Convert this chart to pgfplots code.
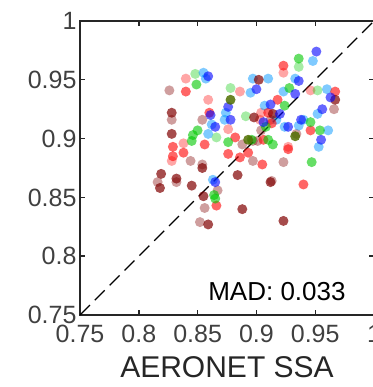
\documentclass[border=0pt]{standalone}
\usepackage{pgfplots}
\pgfplotsset{compat=1.18}
\usepackage{fontspec}
\setmainfont{Liberation Sans}
\definecolor{cR}{RGB}{255,0,0}
\definecolor{cD}{RGB}{128,0,0}
\definecolor{cG}{RGB}{0,200,0}
\definecolor{cB}{RGB}{0,0,255}
\definecolor{cL}{RGB}{0,150,255}
\definecolor{cO}{RGB}{80,110,0}
\pgfplotsset{
  dot/.style 2 args={only marks, mark=*, mark size=5pt, draw=none,
    mark options={draw=none, draw opacity=0, line width=0pt, fill=#1, fill opacity=#2}},
}
\begin{document}
\begin{tikzpicture}
\begin{axis}[
  at={(0,0)}, anchor=south west,
  width=294pt, height=294pt, scale only axis,
  xmin=0.75, xmax=1, ymin=0.75, ymax=1,
  xtick={0.75,0.8,0.85,0.9,0.95,1},
  ytick={0.75,0.8,0.85,0.9,0.95,1},
  xticklabels={0.75,0.8,0.85,0.9,0.95,1},
  yticklabels={0.75,0.8,0.85,0.9,0.95,1},
  tick align=inside, major tick length=5pt,
  tick style={black!85, line width=1.4pt},
  axis line style={black!85, line width=1.6pt},
  /pgf/number format/assume math mode=true,
  ticklabel style={font=\fontsize{25}{25}\selectfont, text=black!75},
  xticklabel style={yshift=-7pt},
  xlabel={AERONET SSA},
  xlabel style={font=\fontsize{30}{30}\selectfont, text=black!85, yshift=-6pt},
  clip=false,
]
\addplot[black, line width=1.3pt, dash pattern=on 14pt off 7pt] coordinates {(0.75,0.75) (1,1)};
% rosy (dark red, light)
\addplot[dot={cD}{0.38}] coordinates {
(0.826,0.941) (0.828,0.916) (0.854,0.916) (0.966,0.925) (0.912,0.916) (0.904,0.907)
(0.901,0.898) (0.934,0.904) (0.844,0.881) (0.897,0.881) (0.816,0.863) (0.832,0.863)
(0.854,0.878) (0.867,0.856) (0.856,0.841) (0.852,0.829) (0.923,0.880) (0.913,0.864)
(0.897,0.898) (0.888,0.895)};
% pink (red, light)
\addplot[dot={cR}{0.35}] coordinates {
(0.840,0.951) (0.859,0.933) (0.923,0.956) (0.886,0.940) (0.946,0.941) (0.904,0.922)
(0.903,0.916) (0.876,0.908) (0.838,0.896) (0.828,0.881) (0.927,0.893)};
% light green
\addplot[dot={cG}{0.35}] coordinates {
(0.848,0.955) (0.936,0.961) (0.878,0.943) (0.952,0.941) (0.891,0.919) (0.866,0.901)};
% light blue
\addplot[dot={cL}{0.5}] coordinates {
(0.855,0.956) (0.857,0.951) (0.948,0.966) (0.910,0.951) (0.897,0.951) (0.933,0.951)
(0.960,0.942) (0.895,0.939) (0.923,0.940) (0.907,0.928) (0.874,0.922) (0.873,0.916)
(0.917,0.916) (0.924,0.910) (0.862,0.912) (0.859,0.904) (0.952,0.921) (0.936,0.911)
(0.961,0.907) (0.953,0.893) (0.940,0.916) (0.863,0.865)};
% red
\addplot[dot={cR}{0.6}] coordinates {
(0.840,0.940) (0.860,0.922) (0.923,0.962) (0.967,0.940) (0.918,0.933) (0.910,0.922)
(0.913,0.913) (0.946,0.907) (0.882,0.901) (0.906,0.899) (0.829,0.893) (0.829,0.885)
(0.838,0.888) (0.856,0.895) (0.876,0.887) (0.886,0.884) (0.893,0.888) (0.905,0.878)
(0.927,0.891) (0.940,0.861) (0.866,0.843)};
% dark red
\addplot[dot={cD}{0.7}] coordinates {
(0.902,0.950) (0.828,0.922) (0.898,0.918) (0.828,0.904) (0.967,0.933) (0.819,0.870)
(0.818,0.858) (0.832,0.866) (0.845,0.860) (0.854,0.875) (0.884,0.869) (0.855,0.851)
(0.888,0.840) (0.859,0.827) (0.912,0.863) (0.923,0.830) (0.914,0.921)};
% green
\addplot[dot={cG}{0.6}] coordinates {
(0.849,0.946) (0.936,0.968) (0.928,0.943) (0.924,0.928) (0.850,0.907) (0.846,0.903)
(0.845,0.898) (0.908,0.910) (0.910,0.899) (0.876,0.897) (0.946,0.914) (0.954,0.907)
(0.914,0.895) (0.947,0.880) (0.864,0.852) (0.865,0.849) (0.896,0.899)};
% blue
\addplot[dot={cB}{0.6}] coordinates {
(0.951,0.974) (0.859,0.953) (0.936,0.949) (0.900,0.942) (0.912,0.929) (0.876,0.927)
(0.920,0.921) (0.878,0.916) (0.861,0.920) (0.865,0.910) (0.963,0.935) (0.938,0.916)
(0.955,0.899) (0.927,0.910) (0.933,0.938) (0.956,0.925) (0.906,0.914) (0.865,0.863)};
% olive
\addplot[dot={cO}{0.85}] coordinates {
(0.878,0.933) (0.893,0.899) (0.933,0.902)};
\node[font=\fontsize{26}{26}\selectfont, text=black] at (axis cs:0.9175,0.7696) {MAD: 0.033};
\end{axis}
\pgfresetboundingbox
\path[use as bounding box] (-80pt,-72pt) rectangle (292pt,315pt);
\end{tikzpicture}
\end{document}
